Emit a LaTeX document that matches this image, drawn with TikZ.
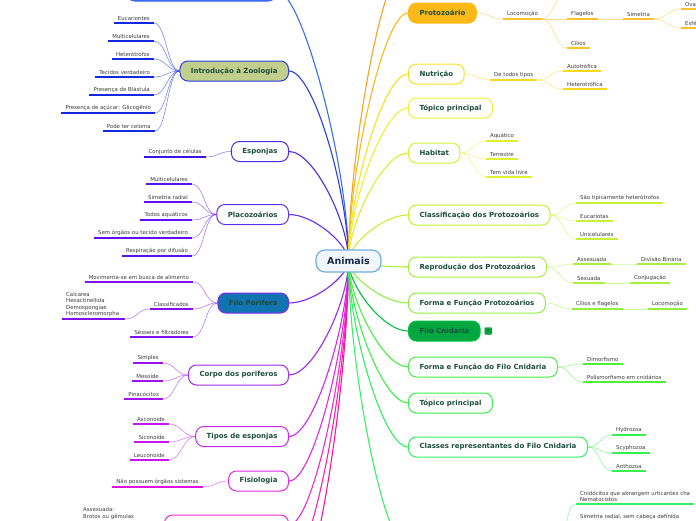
\documentclass[tikz,border=0pt]{standalone}
\usepackage{fontspec}
\setmainfont{DejaVu Sans}
\usetikzlibrary{backgrounds,calc}

\definecolor{ttl}{HTML}{1B4D3E}
\definecolor{lt}{HTML}{3A3A3A}
\definecolor{rootB}{HTML}{70AEE0}
\definecolor{rootF}{HTML}{F0F6FC}
\definecolor{rootT}{HTML}{1A2A4A}
\definecolor{blueA}{HTML}{3A6CF0}
\definecolor{introB}{HTML}{2A3EE6}
\definecolor{introF}{HTML}{C2CE8C}
\definecolor{introL}{HTML}{1428E0}
\definecolor{espoB}{HTML}{4A2AE6}
\definecolor{espoL}{HTML}{3A14E4}
\definecolor{placoB}{HTML}{6030F0}
\definecolor{placoL}{HTML}{5A10F0}
\definecolor{poriB}{HTML}{7A28F0}
\definecolor{poriF}{HTML}{1174B0}
\definecolor{poriL}{HTML}{8010F0}
\definecolor{corpoB}{HTML}{A028F0}
\definecolor{corpoL}{HTML}{A010F0}
\definecolor{tiposB}{HTML}{C828F0}
\definecolor{tiposL}{HTML}{C814F0}
\definecolor{fisioB}{HTML}{E028E8}
\definecolor{fisioL}{HTML}{E014E0}
\definecolor{nbB}{HTML}{F028D0}
\definecolor{nbL}{HTML}{F014D0}
\definecolor{pinkA}{HTML}{FF20B0}
\definecolor{pinkB}{HTML}{FF1098}
\definecolor{orangeA}{HTML}{FFA020}
\definecolor{protoF}{HTML}{FBB917}
\definecolor{protoL}{HTML}{FCC02C}
\definecolor{nutriB}{HTML}{F8E020}
\definecolor{nutriL}{HTML}{F8D81C}
\definecolor{topB}{HTML}{F0F030}
\definecolor{habitB}{HTML}{D8F030}
\definecolor{habitL}{HTML}{E0F030}
\definecolor{classifB}{HTML}{C4F030}
\definecolor{classifL}{HTML}{C8F038}
\definecolor{reproB}{HTML}{A8F038}
\definecolor{reproL}{HTML}{A8F040}
\definecolor{formaB}{HTML}{90F040}
\definecolor{formaL}{HTML}{90F040}
\definecolor{cnidF}{HTML}{00A640}
\definecolor{cnidB}{HTML}{00C040}
\definecolor{cnidX}{HTML}{008A30}
\definecolor{formacB}{HTML}{48F040}
\definecolor{formacL}{HTML}{50F038}
\definecolor{topcB}{HTML}{38F048}
\definecolor{classesB}{HTML}{30F060}
\definecolor{classesL}{HTML}{38F050}
\definecolor{offL}{HTML}{38F068}

\newcommand\lfont{\fontsize{5.4}{6.5}\selectfont}
\newcommand\tfont{\fontsize{7}{8}\selectfont\bfseries}

\tikzset{
  mn/.style={draw=#1, rounded corners=8pt, minimum height=20pt, inner xsep=11pt,
    inner ysep=0pt, font=\tfont, text=ttl, line width=1pt, fill=white},
  lf/.style={inner xsep=4pt, inner ysep=2pt, font=\lfont, text=lt},
  ul/.style={draw=#1, line width=1.3pt},
  lc/.style={draw=#1, line width=0.6pt, opacity=0.55},
  mc/.style={draw=#1, line width=1.1pt},
}

\newcommand\Lleaf[5]{\node[lf, anchor=south east] (#1) at (#2,#3) {#4};
  \draw[ul=#5] (#1.south west) -- (#1.south east);}
\newcommand\Rleaf[5]{\node[lf, anchor=south west] (#1) at (#2,#3) {#4};
  \draw[ul=#5] (#1.south west) -- (#1.south east);}
\newcommand\lcon[3]{\draw[lc=#3] (#1) .. controls +(-12,0) and +(12,0) .. (#2);}
\newcommand\rcon[3]{\draw[lc=#3] (#1) .. controls +(12,0) and +(-12,0) .. (#2);}
\newcommand\mcL[2]{\draw[mc=#2] (A.center) .. controls ($(A.center)!0.35!(A.center|-#1)$) and ($(#1)+(25,0)$) .. (#1);}
\newcommand\mcR[2]{\draw[mc=#2] (A.center) .. controls ($(A.center)!0.35!(A.center|-#1)$) and ($(#1)+(-25,0)$) .. (#1);}

\begin{document}
\begin{tikzpicture}[x=1pt,y=-1pt]
\useasboundingbox (0,0) rectangle (696,520);
\clip (0,0) rectangle (696,520);

% root
\node[draw=rootB, fill=rootF, line width=1.2pt, rounded corners=9pt,
  minimum width=65pt, minimum height=22pt, font=\fontsize{9.5}{10}\selectfont\bfseries,
  text=rootT] (A) at (348.5,261) {Animais};

% ---------- left main nodes ----------
\node[mn=blueA, fill=blueA, minimum width=150pt, anchor=east] (n0) at (277,-9) {};
\node[mn=introB, fill=introF, anchor=east] (intro) at (289,71) {Introdução à Zoologia};
\node[mn=espoB, anchor=east] (espo) at (289,151.5) {Esponjas};
\node[mn=placoB, anchor=east] (placo) at (289,214.5) {Placozoários};
\node[mn=poriB, fill=poriF, anchor=east] (pori) at (289,303) {Filo Porifera};
\node[mn=corpoB, anchor=east] (corpo) at (289,375) {Corpo dos poriferos};
\node[mn=tiposB, anchor=east] (tipos) at (289,436.5) {Tipos de esponjas};
\node[mn=fisioB, anchor=east] (fisio) at (289,481) {Fisiologia};
\node[mn=nbB, minimum width=124pt, anchor=east] (nb) at (289,525) {};
\coordinate (offBL1) at (289,565);
\coordinate (offBL2) at (289,610);

% ---------- right main nodes ----------
\coordinate (offTR) at (408,-40);
\node[mn=protoF, fill=protoF, anchor=west] (proto) at (408,13) {Protozoário};
\node[mn=nutriB, anchor=west] (nutri) at (408,74) {Nutrição};
\node[mn=topB, anchor=west] (top1) at (408,108) {Tópico principal};
\node[mn=habitB, anchor=west] (habit) at (408,153) {Habitat};
\node[mn=classifB, anchor=west] (classif) at (408,215) {Classificação dos Protozoários};
\node[mn=reproB, anchor=west] (repro) at (408,267) {Reprodução dos Protozoários};
\node[mn=formaB, anchor=west] (forma) at (408,303) {Forma e Função Protozoários};
\node[mn=cnidB, fill=cnidF, anchor=west] (cnid) at (408,331) {Filo Cnidaria};
\node[draw=cnidX, fill=cnidF, rounded corners=1pt, minimum size=7pt, inner sep=0pt,
  font=\fontsize{4}{4}\selectfont, text=ttl, anchor=west] (cnidx) at (cnid.east) [xshift=4pt] {8};
\node[mn=formacB, anchor=west] (formac) at (408,367) {Forma e Função do Filo Cnidaria};
\node[mn=topcB, anchor=west] (top2) at (408,403) {Tópico principal};
\node[mn=classesB, anchor=west] (classes) at (408,447) {Classes representantes do Filo Cnidaria};
\coordinate (offBR) at (408,548);
\coordinate (offBRe) at (556,548);

% ---------- left leaves ----------
\Lleaf{i1}{154}{23}{Eucariontes}{introL}
\Lleaf{i2}{154}{41}{Multicelulares}{introL}
\Lleaf{i3}{154}{59}{Heterótrofos}{introL}
\Lleaf{i4}{154}{77}{Tecidos verdadeiro}{introL}
\Lleaf{i5}{154}{95}{Presença de Blástula}{introL}
\Lleaf{i6}{155}{113}{Presença de açúcar: Glicogênio}{introL}
\Lleaf{i7}{155}{131}{Pode ter celoma}{introL}

\Lleaf{e1}{206}{157}{Conjunto de células}{espoL}

\Lleaf{p1}{192}{184}{Multicelulares}{placoL}
\Lleaf{p2}{192}{202}{Simetria radial}{placoL}
\Lleaf{p3}{192}{220}{Todos aquáticos}{placoL}
\Lleaf{p4}{192}{238}{Sem órgãos ou tecido verdadeiro}{placoL}
\Lleaf{p5}{192}{256}{Respiração por difusão}{placoL}

\Lleaf{f1}{193}{282}{Movimenta-se em busca de alimento}{poriL}
\Lleaf{f2}{193}{309}{Classificados}{poriL}
\Lleaf{f3}{193}{337}{Sésseis e filtradores}{poriL}
\node[lf, anchor=south west, text width=55pt, align=left] (f4) at (62,319)
  {Calcarea\\Hexactinellida\\Demospongiae\\Homoscleromorpha};
\draw[ul=poriL] (f4.south west) -- (f4.south east);

\Lleaf{c1}{163}{363}{Simples}{corpoL}
\Lleaf{c2}{163}{381}{Mesoide}{corpoL}
\Lleaf{c3}{163}{399}{Pinacócitos}{corpoL}

\Lleaf{t1}{169}{424}{Asconoide}{tiposL}
\Lleaf{t2}{169}{442}{Siconoide}{tiposL}
\Lleaf{t3}{169}{460}{Leuconoide}{tiposL}

\Lleaf{s1}{203}{487}{Não possuem órgãos sistemas}{fisioL}

\node[lf, anchor=south west, text width=55pt, align=left] (b1) at (79,521.5)
  {Assexuada:\\Brotos ou gêmulas};
\draw[ul=nbL] (b1.south west) -- (b1.south east);

% ---------- right leaves ----------
\Rleaf{r1}{503}{19}{Locomoção}{protoL}
\coordinate (locUp) at (567,-8);
\Rleaf{r2}{567}{19}{Flagelos}{protoL}
\Rleaf{r3}{567}{48}{Cílios}{protoL}
\Rleaf{r4}{623}{19}{Simetria}{protoL}
\Rleaf{r5}{681}{9}{Oval}{protoL}
\Rleaf{r6}{681}{28}{Esférica}{protoL}

\Rleaf{u1}{490}{80}{De todos tipos}{nutriL}
\Rleaf{u2}{563}{71}{Autotrófica}{nutriL}
\Rleaf{u3}{563}{89}{Heterotrófica}{nutriL}

\Rleaf{h1}{486}{141}{Aquático}{habitL}
\Rleaf{h2}{486}{159}{Terrestre}{habitL}
\Rleaf{h3}{486}{177}{Tem vida livre}{habitL}

\Rleaf{k1}{576}{203}{São tipicamente heterótrofos}{classifL}
\Rleaf{k2}{576}{221}{Eucariotas}{classifL}
\Rleaf{k3}{576}{239}{Unicelulares}{classifL}

\Rleaf{q1}{573}{264}{Assexuada}{reproL}
\Rleaf{q2}{573}{283}{Sexuada}{reproL}
\Rleaf{q3}{637}{264}{Divisão Binária}{reproL}
\Rleaf{q4}{630}{283}{Conjugação}{reproL}

\Rleaf{w1}{572}{309}{Cílios e flagelos}{formaL}
\Rleaf{w2}{648}{309}{Locomoção}{formaL}

\Rleaf{d1}{583}{364}{Dimorfismo}{formacL}
\Rleaf{d2}{583}{382}{Polismorfismo em cnidários}{formacL}

\Rleaf{y1}{612}{435}{Hydrozoa}{classesL}
\Rleaf{y2}{612}{453}{Scyphozoa}{classesL}
\Rleaf{y3}{612}{471}{Anthozoa}{classesL}

\node[lf, anchor=south west, align=left] (z1) at (576,504)
  {Cnidócitos que abrangem urticantes cha\\Nematocistos};
\draw[ul=offL] (z1.south west) -- (z1.south east);
\Rleaf{z2}{576}{522}{Simetria radial, sem cabeça definida}{offL}

% ---------- connectors ----------
\begin{scope}[on background layer]
\mcL{n0.east}{blueA}
\mcL{intro.east}{introB}
\mcL{espo.east}{espoB}
\mcL{placo.east}{placoB}
\mcL{pori.east}{poriB}
\mcL{corpo.east}{corpoB}
\mcL{tipos.east}{tiposB}
\mcL{fisio.east}{fisioB}
\mcL{nb.east}{nbB}
\mcL{offBL1}{pinkA}
\mcL{offBL2}{pinkB}

\mcR{offTR}{orangeA}
\mcR{proto.west}{protoF}
\mcR{nutri.west}{nutriB}
\mcR{top1.west}{topB}
\mcR{habit.west}{habitB}
\mcR{classif.west}{classifB}
\mcR{repro.west}{reproB}
\mcR{forma.west}{formaB}
\mcR{cnid.west}{cnidB}
\mcR{formac.west}{formacB}
\mcR{top2.west}{topcB}
\mcR{classes.west}{classesB}
\mcR{offBR}{offL}

\foreach \l in {i1,i2,i3,i4,i5,i6,i7} {\lcon{intro.west}{\l.south east}{introL}}
\lcon{espo.west}{e1.south east}{espoL}
\foreach \l in {p1,p2,p3,p4,p5} {\lcon{placo.west}{\l.south east}{placoL}}
\foreach \l in {f1,f2,f3} {\lcon{pori.west}{\l.south east}{poriL}}
\lcon{f2.south west}{f4.south east}{poriL}
\foreach \l in {c1,c2,c3} {\lcon{corpo.west}{\l.south east}{corpoL}}
\foreach \l in {t1,t2,t3} {\lcon{tipos.west}{\l.south east}{tiposL}}
\lcon{fisio.west}{s1.south east}{fisioL}
\lcon{nb.west}{b1.south east}{nbL}

\rcon{proto.east}{r1.south west}{protoL}
\rcon{r1.south east}{locUp}{protoL}
\rcon{r1.south east}{r2.south west}{protoL}
\rcon{r1.south east}{r3.south west}{protoL}
\rcon{r2.south east}{r4.south west}{protoL}
\rcon{r4.south east}{r5.south west}{protoL}
\rcon{r4.south east}{r6.south west}{protoL}
\rcon{nutri.east}{u1.south west}{nutriL}
\rcon{u1.south east}{u2.south west}{nutriL}
\rcon{u1.south east}{u3.south west}{nutriL}
\foreach \l in {h1,h2,h3} {\rcon{habit.east}{\l.south west}{habitL}}
\foreach \l in {k1,k2,k3} {\rcon{classif.east}{\l.south west}{classifL}}
\rcon{repro.east}{q1.south west}{reproL}
\rcon{repro.east}{q2.south west}{reproL}
\rcon{q1.south east}{q3.south west}{reproL}
\rcon{q2.south east}{q4.south west}{reproL}
\rcon{forma.east}{w1.south west}{formaL}
\rcon{w1.south east}{w2.south west}{formaL}
\foreach \l in {d1,d2} {\rcon{formac.east}{\l.south west}{formacL}}
\foreach \l in {y1,y2,y3} {\rcon{classes.east}{\l.south west}{classesL}}
\rcon{offBRe}{z1.south west}{offL}
\rcon{offBRe}{z2.south west}{offL}
\end{scope}
\end{tikzpicture}
\end{document}
